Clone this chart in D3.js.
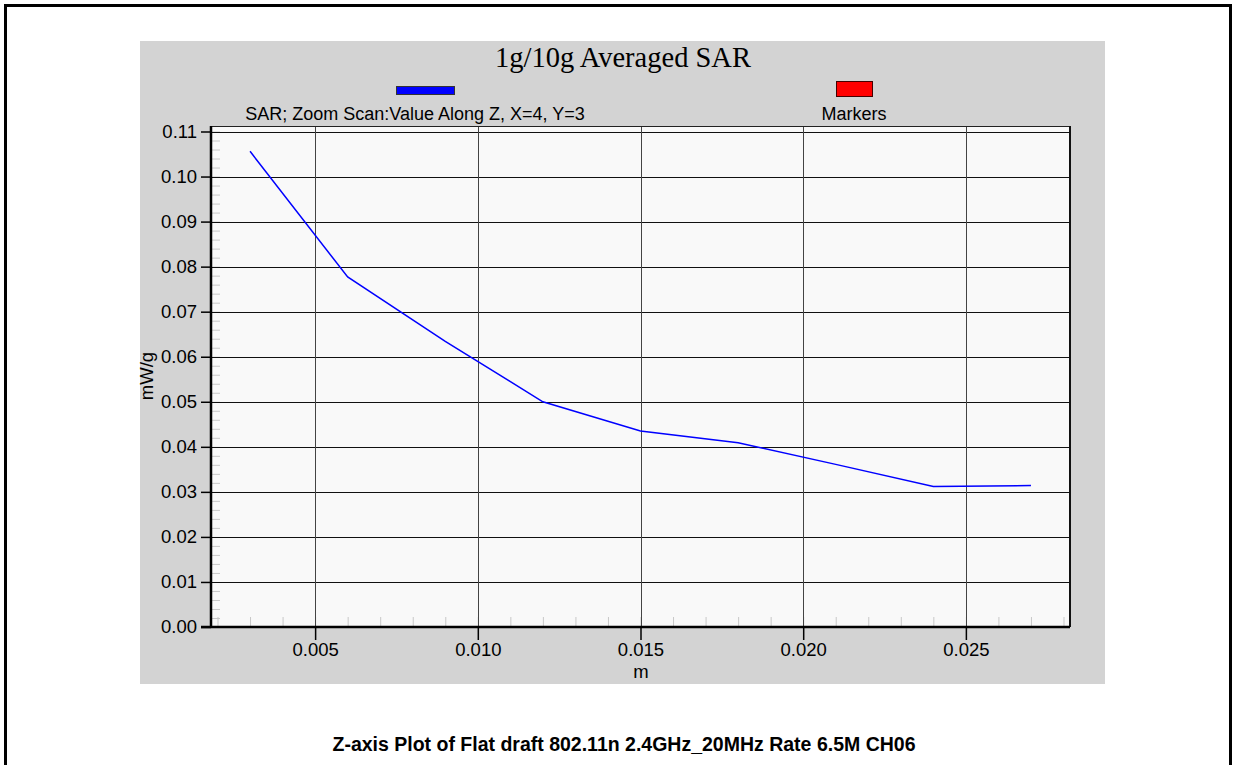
<!DOCTYPE html>
<html>
<head>
<meta charset="utf-8">
<script src="https://cdn.jsdelivr.net/npm/d3@7"></script>
<style>
  body { margin: 0; background: #fff; }
  text { font-family: "Liberation Sans", Arial, sans-serif; fill: #000; }
</style>
</head>
<body>
<div id="chart"></div>
<script>
// Data
var depths = [0.003, 0.006, 0.009, 0.012, 0.015, 0.018, 0.021, 0.024, 0.027];
var sarValues = [0.1056, 0.0777, 0.0634, 0.0500, 0.0435, 0.0409, 0.0361, 0.0312, 0.0314];
var xTicks = [0.005, 0.010, 0.015, 0.020, 0.025];
var yTicks = [0.00, 0.01, 0.02, 0.03, 0.04, 0.05, 0.06, 0.07, 0.08, 0.09, 0.10, 0.11];
var seriesLabel = 'SAR; Zoom Scan:Value Along Z, X=4, Y=3';
var markerLabel = 'Markers';
var chartTitle = '1g/10g Averaged SAR';
var caption = 'Z-axis Plot of Flat draft 802.11n 2.4GHz_20MHz Rate 6.5M CH06';

function renderChart() {
  var width = 1235;
  var height = 765;

  var svg = d3.select('#chart')
              .append('svg')
              .attr('width', width)
              .attr('height', height);

  // outer frame
  svg.append('rect')
     .attr('x', 5.5).attr('y', 5.5)
     .attr('width', 1225).attr('height', 800)
     .attr('fill', 'none')
     .attr('stroke', '#000')
     .attr('stroke-width', 3);

  // grey panel
  svg.append('rect')
     .attr('x', 140).attr('y', 41)
     .attr('width', 965).attr('height', 643)
     .attr('fill', '#d3d3d3');

  // plot area
  var left = 211, right = 1070, top = 126, bottom = 627;
  var xScale = d3.scaleLinear()
                 .domain([0.0018, 0.0282])
                 .range([left, right]);
  var yScale = d3.scaleLinear()
                 .domain([0, 0.11])
                 .range([bottom, 131.5]);

  svg.append('rect')
     .attr('x', left).attr('y', top)
     .attr('width', right - left).attr('height', bottom - top)
     .attr('fill', '#f9f9f9');

  // minor ticks
  var xMinor = d3.range(2, 29).map(function(d) { return d / 1000; });
  svg.append('g')
     .attr('transform', 'translate(0,' + bottom + ')')
     .call(d3.axisTop(xScale).tickValues(xMinor).tickSize(10).tickFormat(''))
     .call(function(g) {
       g.select('.domain').remove();
       g.selectAll('line').attr('stroke', '#c8c8c8');
     });
  var yMinor = d3.range(0, 56).map(function(d) { return d * 0.002; });
  svg.append('g')
     .attr('transform', 'translate(' + left + ',0)')
     .call(d3.axisRight(yScale).tickValues(yMinor).tickSize(9).tickFormat(''))
     .call(function(g) {
       g.select('.domain').remove();
       g.selectAll('line').attr('stroke', '#c8c8c8');
     });

  // grid lines
  svg.append('g')
     .selectAll('line')
     .data(yTicks)
     .enter()
     .append('line')
     .attr('x1', left).attr('x2', right)
     .attr('y1', function(d) { return Math.round(yScale(d)) + 0.5; })
     .attr('y2', function(d) { return Math.round(yScale(d)) + 0.5; })
     .attr('stroke', '#111');
  svg.append('g')
     .selectAll('line')
     .data(xTicks)
     .enter()
     .append('line')
     .attr('x1', function(d) { return Math.round(xScale(d)) + 0.5; })
     .attr('x2', function(d) { return Math.round(xScale(d)) + 0.5; })
     .attr('y1', top).attr('y2', bottom)
     .attr('stroke', '#444');

  // frame of plot
  svg.append('line').attr('x1', left).attr('x2', right).attr('y1', top + 0.5).attr('y2', top + 0.5)
     .attr('stroke', '#222');
  svg.append('line').attr('x1', right).attr('x2', right).attr('y1', top).attr('y2', bottom)
     .attr('stroke', '#111').attr('stroke-width', 2);

  // X-Axis
  var xAxis = d3.axisBottom(xScale)
                .tickValues(xTicks)
                .tickSize(13)
                .tickPadding(3)
                .tickFormat(d3.format('.3f'));
  svg.append('g')
     .attr('transform', 'translate(0,' + bottom + ')')
     .call(xAxis)
     .call(function(g) {
       g.select('.domain').attr('stroke', '#000').attr('stroke-width', 2.5)
        .attr('d', 'M' + (left - 10) + ',0H' + right);
       g.selectAll('line').attr('stroke', '#000').attr('stroke-width', 1.5);
       g.selectAll('text').attr('font-size', 18.5).attr('fill', '#000')
        .style('font-family', '"Liberation Sans", Arial, sans-serif');
     });

  // Y-Axis
  var yAxis = d3.axisLeft(yScale)
                .tickValues(yTicks)
                .tickSize(10)
                .tickPadding(4)
                .tickFormat(d3.format('.2f'));
  svg.append('g')
     .attr('transform', 'translate(' + left + ',0)')
     .call(yAxis)
     .call(function(g) {
       g.select('.domain').attr('stroke', '#000').attr('stroke-width', 2.5)
        .attr('d', 'M0,' + top + 'V' + bottom);
       g.selectAll('line').attr('stroke', '#000').attr('stroke-width', 1.5);
       g.selectAll('text').attr('font-size', 18.5).attr('fill', '#000')
        .style('font-family', '"Liberation Sans", Arial, sans-serif');
     });

  // SAR line
  var line = d3.line()
               .x(function(d, i) { return xScale(depths[i]); })
               .y(function(d) { return yScale(d); });
  svg.append('path')
     .datum(sarValues)
     .attr('d', line)
     .attr('fill', 'none')
     .attr('stroke', '#0000ff')
     .attr('stroke-width', 1.5);

  // titles
  svg.append('text')
     .attr('x', 623).attr('y', 67)
     .attr('text-anchor', 'middle')
     .style('font-family', '"Liberation Serif", "Times New Roman", serif')
     .attr('font-size', 28.5)
     .text(chartTitle);

  // legend
  svg.append('rect')
     .attr('x', 396.5).attr('y', 86.5).attr('width', 58).attr('height', 8)
     .attr('fill', '#0000ff').attr('stroke', '#333');
  svg.append('text')
     .attr('x', 415).attr('y', 120)
     .attr('text-anchor', 'middle')
     .attr('font-size', 18)
     .text(seriesLabel);
  svg.append('rect')
     .attr('x', 836.5).attr('y', 81.5).attr('width', 36).attr('height', 15)
     .attr('fill', '#ff0000').attr('stroke', '#400');
  svg.append('text')
     .attr('x', 854).attr('y', 120)
     .attr('text-anchor', 'middle')
     .attr('font-size', 18)
     .text(markerLabel);

  // axis labels
  svg.append('text')
     .attr('x', 641).attr('y', 678)
     .attr('text-anchor', 'middle')
     .attr('font-size', 18.5)
     .text('m');
  svg.append('text')
     .attr('transform', 'translate(153,376) rotate(-90)')
     .attr('text-anchor', 'middle')
     .attr('font-size', 18.5)
     .text('mW/g');

  // caption
  svg.append('text')
     .attr('x', 624).attr('y', 751)
     .attr('text-anchor', 'middle')
     .attr('font-size', 19.5)
     .attr('font-weight', 'bold')
     .text(caption);
}

renderChart();
</script>
</body>
</html>
